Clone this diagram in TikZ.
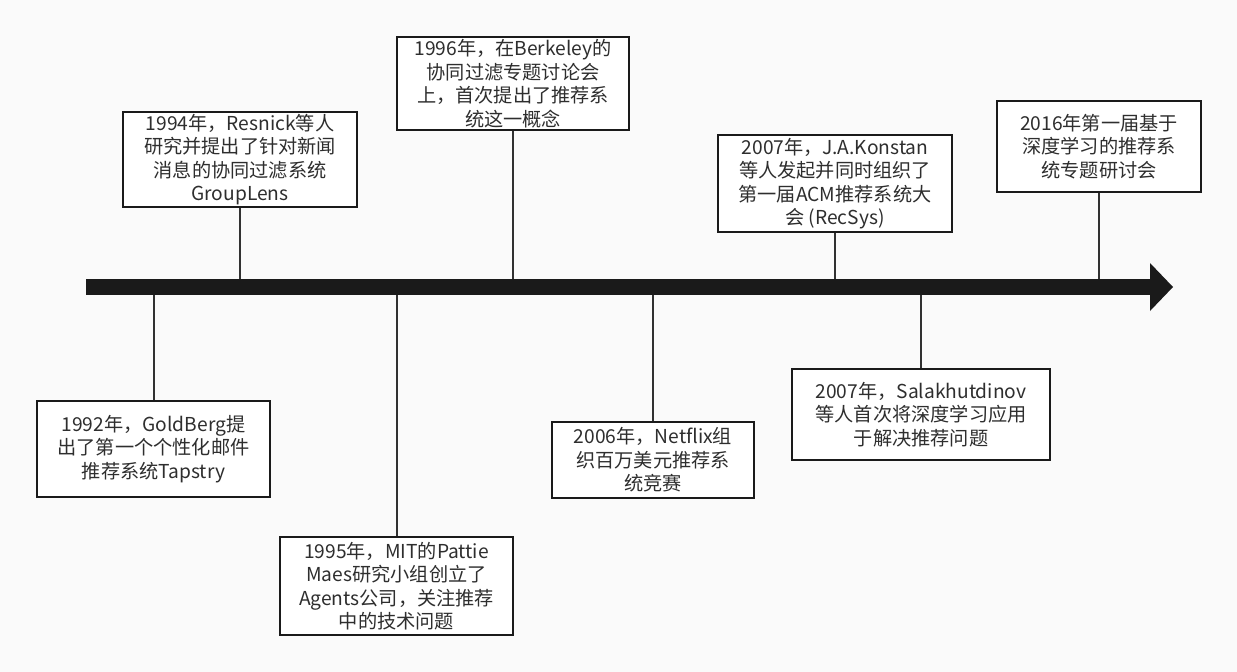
\documentclass[tikz,border=0pt]{standalone}
\usepackage{fontspec}
\setmainfont{Noto Sans CJK SC}
\usepackage{tikz}
\usetikzlibrary{arrows.meta, positioning}
\definecolor{bgpaper}{HTML}{FAFAFA}
\definecolor{inkdark}{HTML}{1A1A1A}
\definecolor{txtgray}{HTML}{2E2E2E}

\begin{document}
\begin{tikzpicture}[
  x=1pt, y=-1pt,
  event/.style={rectangle, draw=inkdark, line width=2.5pt, fill=white, align=center,
    inner sep=0pt, text=txtgray, font=\fontsize{19.2}{23.5}\selectfont},
  tick/.style={line width=2pt, inkdark!90},
  axis/.style={line width=16pt, inkdark, -{Triangle[length=23pt, width=48pt, line width=0pt]}},
]
\fill[bgpaper] (0,0) rectangle (1237,672);
\useasboundingbox (0,0) rectangle (1237,672);

% time axis
\coordinate (tstart) at (86,287);
\coordinate (tend) at (1173,287);

% above the axis
\node[event, minimum width=234pt, minimum height=95pt] (e1994) at (240,159.5)
  {1994年，Resnick等人\\研究并提出了针对新闻\\消息的协同过滤系统\\GroupLens};
\node[event, minimum width=232pt, minimum height=93pt] (e1996) at (513,83.5)
  {1996年，在Berkeley的\\协同过滤专题讨论会\\上，首次提出了推荐系\\统这一概念};
\node[event, minimum width=234pt, minimum height=97pt] (e2007a) at (835,183.5)
  {2007年，J.A.Konstan\\等人发起并同时组织了\\第一届ACM推荐系统大\\会 (RecSys)};
\node[event, minimum width=204pt, minimum height=91pt] (e2016) at (1099,146.5)
  {2016年第一届基于\\深度学习的推荐系\\统专题研讨会};

% below the axis
\node[event, minimum width=233pt, minimum height=96pt] (e1992) at (153.5,449)
  {1992年，GoldBerg提\\出了第一个个性化邮件\\推荐系统Tapstry};
\node[event, minimum width=233pt, minimum height=98pt] (e1995) at (396.5,586)
  {1995年，MIT的Pattie\\Maes研究小组创立了\\Agents公司，关注推荐\\中的技术问题};
\node[event, minimum width=202pt, minimum height=76pt] (e2006) at (653,460)
  {2006年，Netflix组\\织百万美元推荐系\\统竞赛};
\node[event, minimum width=258pt, minimum height=91pt] (e2007b) at (921,414.5)
  {2007年，Salakhutdinov\\等人首次将深度学习应用\\于解决推荐问题};

% ticks
\foreach \ev in {e1994, e1996, e2007a, e2016, e1992, e1995, e2006, e2007b}
  \draw[tick] (\ev) -- (\ev |- tstart);

% arrow
\draw[axis] (tstart) -- (tend);

\end{tikzpicture}
\end{document}
